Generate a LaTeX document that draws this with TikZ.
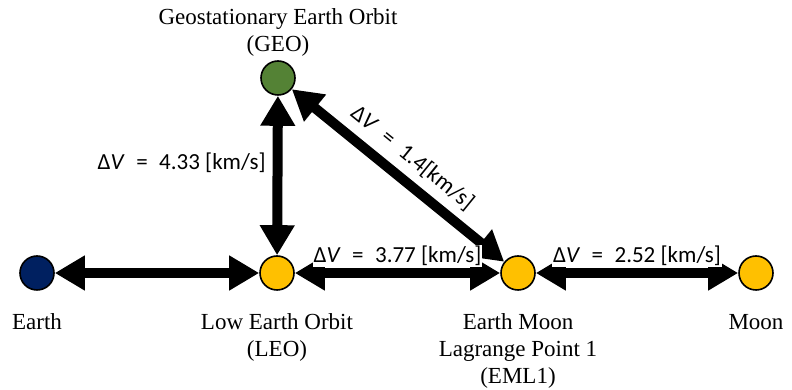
\documentclass[tikz,border=0pt]{standalone}
\usepackage{fontspec}
\setmainfont{Liberation Serif}
\newfontfamily\calfont{Carlito}
\usetikzlibrary{arrows.meta,positioning}
\definecolor{earthblue}{RGB}{0,32,96}
\definecolor{geogreen}{RGB}{84,130,53}
\definecolor{orbityellow}{RGB}{255,192,0}
\tikzset{
  body/.style={circle,draw=black,line width=1.6pt,minimum size=34pt,inner sep=0pt},
  bodytxt/.style={font=\fontsize{23}{27}\selectfont,align=center,inner sep=0pt},
  link/.style={line width=10pt,{Triangle[length=30pt,width=33pt]}-{Triangle[length=30pt,width=33pt]}},
  dv/.style={font=\calfont\fontsize{23}{25}\selectfont,fill=white,inner sep=1pt}
}
\newcommand{\dV}[1]{Δ\textit{V}\enspace=\enspace#1}
\begin{document}
\begin{tikzpicture}[x=1pt,y=1pt]
\useasboundingbox (0,0) rectangle (792,390);
% bodies
\node[body,fill=earthblue] (earth) at (37,117) {};
\node[body,fill=orbityellow] (leo) at (277,117) {};
\node[body,fill=orbityellow] (eml) at (518,117) {};
\node[body,fill=orbityellow] (moon) at (756,117) {};
\node[body,fill=geogreen] (geo) at (278,312) {};
% names
\node[bodytxt,below=23pt of earth] (earthtxt) {Earth};
\node[bodytxt,below=23pt of leo] (leotxt) {Low Earth Orbit\\(LEO)};
\node[bodytxt,below=23pt of eml] (emltxt) {Earth Moon\\Lagrange Point 1\\(EML1)};
\node[bodytxt,below=23pt of moon] (moontxt) {Moon};
\node[bodytxt,above=4pt of geo] (geotxt) {Geostationary Earth Orbit\\(GEO)};
% transfers
\draw[link] (earth) -- (leo);
\draw[link] (leo) -- (geo) node[dv,pos=0.58,left=6pt] {\dV{4.33 [km/s]}};
\draw[link] (geo) -- (eml) node[dv,midway,sloped,above=8pt,fill=none,inner sep=0pt] {\dV{1.4[km/s]}};
\draw[link] (leo) -- (eml) node[dv,midway,above=1pt] {\dV{3.77 [km/s]}};
\draw[link] (eml) -- (moon) node[dv,midway,above=1pt] {\dV{2.52 [km/s]}};
\end{tikzpicture}
\end{document}
